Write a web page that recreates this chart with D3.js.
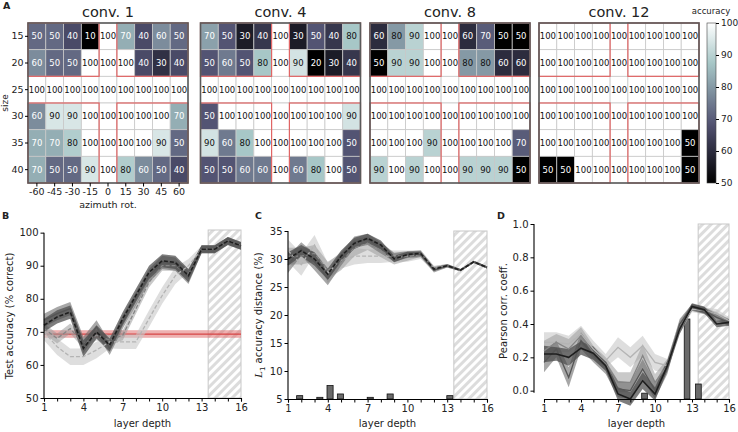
<!DOCTYPE html>
<html>
<head>
<meta charset="utf-8">
<script src="https://d3js.org/d3.v7.min.js"></script>
<style>
  body { margin: 0; background: #fff; font-family: "DejaVu Sans", sans-serif; }
  text { fill: #222; }
</style>
</head>
<body>
<div id="chart"></div>
<script>
// ---- heatmap data (panel A) ----
const azimuth = ["-60", "-45", "-30", "-15", "0", "15", "30", "45", "60"];
const sizes = ["15", "20", "25", "30", "35", "40"];
const convTitles = ["conv. 1", "conv. 4", "conv. 8", "conv. 12"];
const conv1 = [
  [50, 50, 40, 10, 100, 70, 40, 60, 50],
  [60, 50, 50, 100, 100, 100, 40, 30, 40],
  [100, 100, 100, 100, 100, 100, 100, 100, 100],
  [60, 90, 90, 100, 100, 100, 100, 100, 70],
  [70, 70, 80, 100, 100, 100, 100, 90, 50],
  [70, 50, 50, 90, 100, 80, 60, 50, 40]
];
const conv4 = [
  [70, 50, 30, 40, 100, 30, 50, 40, 80],
  [50, 60, 50, 80, 100, 90, 20, 30, 40],
  [100, 100, 100, 100, 100, 100, 100, 100, 100],
  [50, 100, 100, 100, 100, 100, 100, 100, 90],
  [90, 60, 80, 100, 100, 100, 100, 100, 50],
  [50, 50, 60, 60, 100, 60, 80, 100, 50]
];
const conv8 = [
  [60, 80, 90, 100, 100, 60, 70, 50, 50],
  [50, 90, 90, 100, 100, 80, 80, 60, 60],
  [100, 100, 100, 100, 100, 100, 100, 100, 100],
  [100, 100, 100, 100, 100, 100, 100, 100, 100],
  [100, 100, 100, 90, 100, 100, 100, 100, 70],
  [90, 100, 90, 100, 100, 90, 90, 90, 50]
];
const conv12 = [
  [100, 100, 100, 100, 100, 100, 100, 100, 100],
  [100, 100, 100, 100, 100, 100, 100, 100, 100],
  [100, 100, 100, 100, 100, 100, 100, 100, 100],
  [100, 100, 100, 100, 100, 100, 100, 100, 100],
  [100, 100, 100, 100, 100, 100, 100, 100, 50],
  [50, 50, 100, 100, 100, 100, 100, 100, 50]
];
const cbarTicks = [50, 60, 70, 80, 90, 100];

// ---- layer-depth curves (panels B, C, D), light -> dark ----
const depth = d3.range(1, 17);
const accMean = [
  [70, 65.5, 62.5, 62.5, 64.5, 67, 67, 67, 74, 81, 87, 90, 95, 95, 97.5, 96],
  [71, 68, 71, 66.5, 69, 67.5, 69, 77, 85, 90, 90, 87.5, 95, 95, 97.5, 96],
  [73.5, 75.5, 77, 66, 71.5, 65, 73, 80, 87, 91, 90.5, 86.5, 95, 95, 97.5, 96],
  [72, 74.5, 76, 65, 70, 66, 74, 81, 88, 91.5, 91, 87, 95, 95, 97.5, 96]
];
const accErr = [
  [2.5, 2.5, 2.5, 2.5, 2.5, 2, 2.2, 2.2, 2.5, 2.5, 2.5, 2, 1, 1, 1, 1],
  [1.5, 1.5, 1.5, 1.5, 1.5, 1.5, 1.5, 1.5, 1.5, 1.5, 1.5, 1.5, 1, 1, 1, 1],
  [2, 2, 2, 2.5, 2, 2, 2, 2, 2, 2, 2, 2, 1.2, 1.2, 1.2, 1.2],
  [2, 2, 2, 2.5, 2, 2, 2, 2, 2, 2, 2, 2, 1.2, 1.2, 1.2, 1.2]
];
const chanceAcc = 69.3, chanceLo = 68.2, chanceHi = 70.5;

const distMean = [
  [31.5, 29, 32.5, 27.5, 29.8, 30.5, 30.5, 30.5, 30.5, 30.5, 30.8, 28.3, 28.8, 28, 29.5, 28.5],
  [30.5, 30.5, 31, 28, 29.5, 32, 32.8, 31.5, 30, 30.5, 31, 28.3, 28.8, 28, 29.5, 28.5],
  [29, 31.8, 29.5, 26.5, 30, 33, 33.5, 32, 30.3, 30.8, 30.8, 28, 28.8, 28, 29.5, 28.5],
  [30, 31.5, 30, 27.3, 30.5, 32.8, 33.7, 32.5, 30, 30.8, 31, 28.2, 28.8, 28, 29.5, 28.5]
];
const distErr = [
  [2, 2, 1.8, 1.8, 1.5, 1.5, 1.2, 1.2, 1, 1, 0.8, 0.5, 0.3, 0.2, 0.2, 0.2],
  [1.5, 1.5, 1.5, 1.5, 1.5, 1.5, 1.2, 1.2, 1, 0.8, 0.6, 0.4, 0.3, 0.2, 0.2, 0.2],
  [1.5, 1.2, 1.5, 1.2, 1.2, 1, 1, 1, 0.8, 0.6, 0.5, 0.4, 0.3, 0.2, 0.2, 0.2],
  [1.2, 1, 1.2, 1, 1, 1, 0.8, 0.8, 0.6, 0.5, 0.4, 0.3, 0.2, 0.2, 0.2, 0.2]
];
const distBarX = [1.88, 3.4, 4.17, 4.95, 7.2, 8.7, 13.2];
const distBarV = [5.6, 5.3, 7.4, 5.9, 5.3, 5.9, 5.6];

const corrMean = [
  [0.29, 0.29, 0.28, 0.34, 0.25, 0.18, 0.26, 0.20, 0.27, 0.17, 0.15, 0.37, 0.49, 0.48, 0.46, 0.42],
  [0.24, 0.29, 0.25, 0.33, 0.23, 0.16, 0.05, 0.05, 0.21, 0.05, 0.15, 0.39, 0.50, 0.48, 0.45, 0.41],
  [0.17, 0.25, 0.08, 0.30, 0.21, 0.14, 0.01, 0.0, 0.13, 0.0, 0.14, 0.40, 0.50, 0.48, 0.44, 0.41],
  [0.22, 0.22, 0.20, 0.255, 0.225, 0.15, -0.02, -0.05, 0.06, -0.02, 0.15, 0.37, 0.505, 0.485, 0.40, 0.41]
];
const corrErr = [
  [0.06, 0.06, 0.05, 0.05, 0.05, 0.04, 0.06, 0.06, 0.06, 0.05, 0.04, 0.03, 0.02, 0.02, 0.03, 0.02],
  [0.06, 0.05, 0.06, 0.05, 0.04, 0.04, 0.06, 0.06, 0.07, 0.05, 0.04, 0.03, 0.02, 0.02, 0.02, 0.02],
  [0.06, 0.05, 0.06, 0.05, 0.04, 0.04, 0.05, 0.05, 0.06, 0.05, 0.04, 0.03, 0.02, 0.02, 0.02, 0.02],
  [0.05, 0.04, 0.05, 0.04, 0.04, 0.03, 0.04, 0.04, 0.05, 0.04, 0.03, 0.03, 0.02, 0.02, 0.02, 0.02]
];
const corrBarX = [9.15, 12.6, 13.52];
const corrBarV = [-0.015, 0.43, 0.04];

// ---------------------------------------------------------------
const svg = d3.select("#chart").append("svg")
  .attr("width", 738).attr("height", 432)
  .style("font-family", "'DejaVu Sans', sans-serif");

const defs = svg.append("defs");
const hatch = defs.append("pattern")
  .attr("id", "hatch").attr("patternUnits", "userSpaceOnUse")
  .attr("width", 6).attr("height", 6).attr("patternTransform", "rotate(45)");
hatch.append("rect").attr("width", 6).attr("height", 6).attr("fill", "#fff");
hatch.append("rect").attr("width", 3).attr("height", 6).attr("fill", "#dcdcdc");

// matplotlib "bone" colormap
const bone = d3.scaleLinear()
  .domain([0, 0.365079, 0.746032, 1])
  .range(["rgb(0,0,0)", "rgb(81,81,113)", "rgb(166,198,198)", "rgb(255,255,255)"])
  .clamp(true);

// ---- panel A: heatmaps ----
const hmLeft = [28, 200.5, 370, 539], hmTop = 23, hmSize = 160;
const maps = [conv1, conv4, conv8, conv12];
const quads = [[0, 2, 0, 4], [0, 2, 5, 9], [3, 6, 0, 4], [3, 6, 5, 9]];

maps.forEach((m, k) => {
  const g = svg.append("g").attr("transform", `translate(${hmLeft[k]},${hmTop})`);
  const x = d3.scaleBand().domain(azimuth).range([0, hmSize]);
  const y = d3.scaleBand().domain(sizes).range([0, hmSize]);
  const lo = d3.min(m.flat());
  const cells = [];
  m.forEach((row, i) => row.forEach((v, j) => cells.push({ r: sizes[i], c: azimuth[j], v })));

  g.selectAll(".cell").data(cells).enter().append("rect")
    .attr("x", d => x(d.c)).attr("y", d => y(d.r))
    .attr("width", x.bandwidth()).attr("height", y.bandwidth())
    .attr("fill", d => bone((d.v - lo) / (100 - lo)))
    .attr("stroke", "#c8c8c8").attr("stroke-width", 0.8);

  g.selectAll(".val").data(cells).enter().append("text")
    .attr("x", d => x(d.c) + x.bandwidth() / 2)
    .attr("y", d => y(d.r) + y.bandwidth() / 2)
    .attr("dy", "0.35em").attr("text-anchor", "middle")
    .style("font-size", "8.5px")
    .style("fill", d => d.v >= 80 ? "#111" : "#fff")
    .text(d => d.v);

  quads.forEach(q => {
    g.append("rect")
      .attr("x", x(azimuth[q[2]])).attr("y", y(sizes[q[0]]))
      .attr("width", x(azimuth[q[3] - 1]) + x.bandwidth() - x(azimuth[q[2]]))
      .attr("height", y(sizes[q[1] - 1]) + y.bandwidth() - y(sizes[q[0]]))
      .attr("fill", "none").attr("stroke", "#e06464").attr("stroke-width", 1.2);
  });

  g.append("rect").attr("width", hmSize).attr("height", hmSize)
    .attr("fill", "none").attr("stroke", "#5a5a5a").attr("stroke-width", 1.6);

  g.append("text").attr("x", hmSize / 2).attr("y", -6)
    .attr("text-anchor", "middle").style("font-size", "14.5px")
    .text(convTitles[k]);

  if (k === 0) {
    const ya = g.append("g").call(d3.axisLeft(y).tickSize(3).tickPadding(1.5));
    ya.select(".domain").remove();
    ya.selectAll("text").style("font-size", "9.5px").style("fill", "#222").style("font-family", "'DejaVu Sans'");
    const xa = g.append("g").attr("transform", `translate(0,${hmSize})`)
      .call(d3.axisBottom(x).tickSize(3.5).tickPadding(2));
    xa.select(".domain").remove();
    xa.selectAll("text").style("font-size", "9.5px").style("fill", "#222").style("font-family", "'DejaVu Sans'");
    g.append("text").attr("x", hmSize / 2).attr("y", hmSize + 25)
      .attr("text-anchor", "middle").style("font-size", "9.5px").text("azimuth rot.");
    g.append("text").attr("transform", `translate(-20,${hmSize / 2}) rotate(-90)`)
      .attr("text-anchor", "middle").style("font-size", "9px").text("size");
  }
});

// colorbar
const grad = defs.append("linearGradient").attr("id", "cbar")
  .attr("x1", 0).attr("y1", 1).attr("x2", 0).attr("y2", 0);
d3.range(0, 1.0001, 0.05).forEach(t => {
  grad.append("stop").attr("offset", t).attr("stop-color", bone(t));
});
const cbX = 707, cbW = 9;
const cbY = d3.scaleLinear().domain([50, 100]).range([hmTop + hmSize, hmTop]);
svg.append("rect").attr("x", cbX).attr("y", hmTop).attr("width", cbW).attr("height", hmSize)
  .attr("fill", "url(#cbar)").attr("stroke", "#444").attr("stroke-width", 0.6);
const cba = svg.append("g").attr("transform", `translate(${cbX + cbW},0)`)
  .call(d3.axisRight(cbY).tickValues(cbarTicks).tickSize(3).tickPadding(2));
cba.select(".domain").remove();
cba.selectAll("text").style("font-size", "9px").style("fill", "#222").style("font-family", "'DejaVu Sans'");
svg.append("text").attr("x", cbX + 4).attr("y", 14).attr("text-anchor", "middle")
  .style("font-size", "8.5px").text("accuracy");

// ---- panels B, C, D ----
const lineCol = ["#b4b4b4", "#858585", "#555", "#1e1e1e"];
const bandCol = ["#c8c8c8", "#9c9c9c", "#6c6c6c", "#474747"];
const bandOp = [0.6, 0.55, 0.6, 0.7];

function linePanel(o) {
  const g = svg.append("g");
  const x = d3.scaleLinear().domain([1, 16]).range(o.xr);
  const y = d3.scaleLinear().domain(o.yd).range(o.yr);

  g.append("rect").attr("x", x(13.5)).attr("y", y(o.hatchTop))
    .attr("width", x(16) - x(13.5)).attr("height", y(o.yd[0]) - y(o.hatchTop))
    .attr("fill", "url(#hatch)").attr("stroke", "#c8c8c8").attr("stroke-width", 1);

  if (o.extra) o.extra(g, x, y);

  if (o.barX) {
    g.selectAll(".bar").data(o.barX.map((bx, i) => ({ bx, v: o.barV[i] }))).enter().append("rect")
      .attr("x", d => x(d.bx - 0.23)).attr("width", x(1.46) - x(1))
      .attr("y", d => y(d.v)).attr("height", d => y(o.yd[0]) - y(d.v))
      .attr("fill", "#6a6a6a").attr("stroke", "#111").attr("stroke-width", 0.8);
  }

  const area = d3.area().x((d, i) => x(depth[i]))
    .y0(d => y(d[0] - d[1])).y1(d => y(d[0] + d[1]));
  const line = d3.line().x((d, i) => x(depth[i])).y(d => y(d));
  o.mean.forEach((s, k) => {
    g.append("path").datum(s.map((v, i) => [v, o.err[k][i]]))
      .attr("d", area).attr("fill", bandCol[k]).attr("fill-opacity", bandOp[k]);
  });
  o.mean.forEach((s, k) => {
    g.append("path").datum(s).attr("d", line).attr("fill", "none")
      .attr("stroke", lineCol[k]).attr("stroke-width", k === 3 ? 1.6 : 1.3)
      .attr("stroke-dasharray", o.dash[k]);
  });

  const xa = g.append("g").attr("transform", `translate(0,${y(o.yd[0])})`)
    .call(d3.axisBottom(x).tickValues(depth).tickSize(3.5).tickPadding(2)
      .tickFormat(d => (d - 1) % 3 === 0 ? d : ""));
  xa.select(".domain").attr("stroke-width", 1.1);
  const yaX = o.xr[0] - (o.yOffset || 0);
  const ya = g.append("g").attr("transform", `translate(${yaX},0)`)
    .call(d3.axisLeft(y).tickValues(o.yTicks).tickSize(3.5).tickPadding(2).tickFormat(o.fmt));
  ya.select(".domain").attr("d", `M-0,${y(o.yTicks[o.yTicks.length - 1])}V${y(o.yTicks[0]) + (o.yOffset ? 2 : 0)}`)
    .attr("stroke-width", 1.1);
  [xa, ya].forEach(a => a.selectAll("text").style("font-size", "10px").style("fill", "#222")
    .style("font-family", "'DejaVu Sans'"));

  g.append("text").attr("x", (o.xr[0] + o.xr[1]) / 2).attr("y", 427)
    .attr("text-anchor", "middle").style("font-size", "10px").text("layer depth");
  return g;
}

// B
linePanel({
  xr: [44, 241], yd: [50, 100.8], yr: [398, 230], hatchTop: 100.8,
  yTicks: [50, 60, 70, 80, 90, 100], fmt: d3.format("d"),
  mean: accMean, err: accErr, dash: ["4,2", "4,2", null, "4,2"],
  extra: (g, x, y) => {
    g.append("rect").attr("x", x(1)).attr("width", x(16) - x(1))
      .attr("y", y(chanceHi)).attr("height", y(chanceLo) - y(chanceHi))
      .attr("fill", "#e07070").attr("fill-opacity", 0.55);
    g.append("line").attr("x1", x(1)).attr("x2", x(16))
      .attr("y1", y(chanceAcc)).attr("y2", y(chanceAcc))
      .attr("stroke", "#d64545").attr("stroke-width", 1.3);
  }
});
svg.append("text").attr("transform", "translate(13,316) rotate(-90)")
  .attr("text-anchor", "middle").style("font-size", "10px").text("Test accuracy (% correct)");

// C
linePanel({
  xr: [288, 487], yd: [5, 35], yr: [399, 231], hatchTop: 35,
  yTicks: [5, 10, 15, 20, 25, 30, 35], fmt: d3.format("d"),
  mean: distMean, err: distErr, dash: ["4,2", "4,2", null, "4,2"],
  barX: distBarX, barV: distBarV
});
const cl = svg.append("text").attr("transform", "translate(262,315) rotate(-90)")
  .attr("text-anchor", "middle").style("font-size", "10px");
cl.append("tspan").style("font-style", "italic").style("font-family", "'DejaVu Serif'").text("L");
cl.append("tspan").attr("dy", 3).style("font-size", "7px").text("1");
cl.append("tspan").attr("dy", -3).text(" accuracy distance (%)");

// D
linePanel({
  xr: [544, 729], yd: [-0.05, 1.0], yr: [399, 224], hatchTop: 1.0, yOffset: 10,
  yTicks: [0, 0.2, 0.4, 0.6, 0.8, 1.0], fmt: d3.format(".1f"),
  mean: corrMean, err: corrErr, dash: [null, null, null, null],
  barX: corrBarX, barV: corrBarV
});
svg.append("text").attr("transform", "translate(507,311) rotate(-90)")
  .attr("text-anchor", "middle").style("font-size", "10px").text("Pearson corr. coeff.");

// panel letters
[["A", 3, 9], ["B", 2, 219], ["C", 255, 219], ["D", 497, 219]].forEach(l => {
  svg.append("text").attr("x", l[1]).attr("y", l[2])
    .style("font-size", "9.5px").style("font-weight", "bold").text(l[0]);
});
</script>
</body>
</html>
